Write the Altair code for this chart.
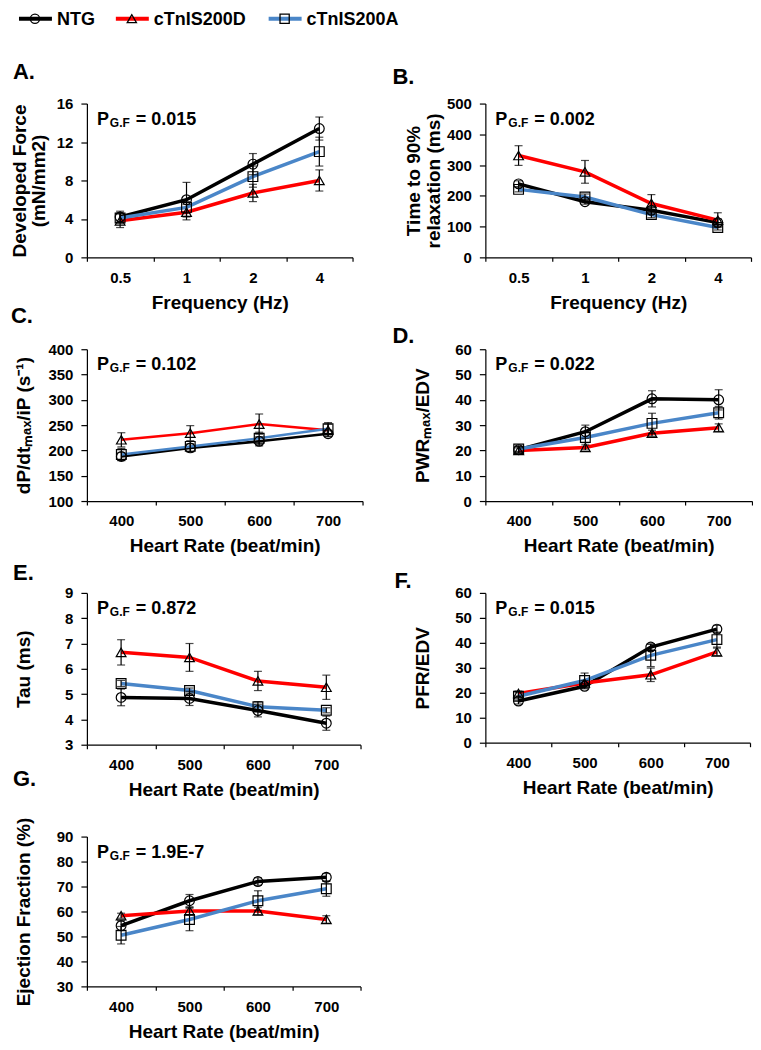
import altair as alt
import pandas as pd

FONT = "Liberation Sans"

SERIES = ["NTG", "cTnIS200D", "cTnIS200A"]
FREQ = ["0.5", "1", "2", "4"]
HR = ["400", "500", "600", "700"]
PVALS = ["0.015", "0.002", "0.102", "0.022", "0.872", "0.015", "1.9E-7"]

# A. Developed Force (mN/mm2)
A_NTG = [4.2, 6.0, 9.7, 13.4]
A_NTG_SE = [0.6, 1.8, 1.1, 1.2]
A_D = [3.8, 4.7, 6.7, 8.0]
A_D_SE = [0.7, 0.8, 0.9, 1.1]
A_A = [4.1, 5.2, 8.4, 11.0]
A_A_SE = [0.5, 0.6, 1.1, 1.5]

# B. Time to 90% relaxation (ms)
B_NTG = [239, 181, 153, 113]
B_NTG_SE = [10, 8, 12, 12]
B_D = [331, 278, 175, 121]
B_D_SE = [32, 37, 29, 24]
B_A = [221, 196, 139, 97]
B_A_SE = [8, 10, 10, 8]

# C. dP/dtmax/iP (s-1)
C_NTG = [188, 205, 218, 233]
C_NTG_SE = [8, 8, 9, 6]
C_D = [221, 234, 252, 240]
C_D_SE = [14, 15, 20, 12]
C_A = [192, 208, 224, 243]
C_A_SE = [12, 10, 12, 12]

# D. PWRmax/EDV
D_NTG = [20.3, 27.4, 40.4, 40.0]
D_NTG_SE = [1.2, 2.6, 3.2, 4.0]
D_D = [20.0, 21.2, 26.8, 29.0]
D_D_SE = [1.0, 1.0, 1.2, 1.5]
D_A = [20.6, 25.1, 30.7, 34.9]
D_A_SE = [1.0, 2.0, 4.0, 2.5]

# E. Tau (ms)
E_NTG = [4.87, 4.83, 4.35, 3.85]
E_NTG_SE = [0.33, 0.28, 0.25, 0.28]
E_D = [6.65, 6.45, 5.52, 5.27]
E_D_SE = [0.5, 0.55, 0.38, 0.48]
E_A = [5.42, 5.14, 4.50, 4.36]
E_A_SE = [0.12, 0.1, 0.2, 0.1]

# F. PFR/EDV
F_NTG = [16.7, 22.6, 38.3, 45.5]
F_NTG_SE = [1.2, 1.0, 1.2, 1.5]
F_D = [19.7, 23.9, 27.2, 36.4]
F_D_SE = [1.0, 1.0, 2.7, 1.5]
F_A = [18.6, 24.9, 35.0, 41.3]
F_A_SE = [1.5, 3.0, 4.5, 3.0]

# G. Ejection Fraction (%)
G_NTG = [54.3, 64.3, 72.0, 73.7]
G_NTG_SE = [2.0, 2.5, 1.5, 1.5]
G_D = [58.3, 60.2, 60.2, 56.8]
G_D_SE = [1.0, 1.5, 1.5, 1.5]
G_A = [50.5, 56.8, 64.3, 69.1]
G_A_SE = [3.5, 4.5, 4.0, 3.0]

BLUE_LIGHT = "#4A86C8"
BLUE = "#1273C6"
RED = "#FF0000"
BLACK = "#000000"
SHAPES = ["circle", "triangle-up", "square"]


def panel(letter, cats, means, errs, ydom, yticks, ytitle, xtitle, pval,
          width, height, t_offset, t_dx, blue=BLUE, shapes=SHAPES, lw=3.5,
          ytp=13, tlh=20):
    rows = []
    for si, s in enumerate(SERIES):
        for ci, c in enumerate(cats):
            rows.append({"cat": c, "series": s, "mean": means[si][ci],
                         "err": errs[si][ci]})
    df = pd.DataFrame(rows)
    base = alt.Chart(df).transform_calculate(
        lo="datum.mean - datum.err", hi="datum.mean + datum.err")

    xscale = alt.Scale(type="band", domain=cats, paddingInner=0, paddingOuter=0)
    xaxis = alt.Axis(title=xtitle, tickBand="extent", labelAngle=0, tickSize=4,
                     labelPadding=9, titlePadding=8)
    yscale = alt.Scale(domain=ydom, nice=False, zero=False)
    yaxis = alt.Axis(values=yticks, title=ytitle, grid=False, tickSize=6,
                     labelPadding=8, minExtent=40, maxExtent=40,
                     titlePadding=ytp, titleLineHeight=tlh)

    def X():
        return alt.X("cat:O", scale=xscale, axis=xaxis, sort=cats)

    def Y(f):
        return alt.Y(f, scale=yscale, axis=yaxis)

    color = alt.Color("series:N", scale=alt.Scale(domain=SERIES, range=[BLACK, RED, blue]),
                      legend=None)
    shape = alt.Shape("series:N", scale=alt.Scale(domain=SERIES, range=shapes), legend=None)

    lines = base.mark_line(strokeWidth=lw).encode(x=X(), y=Y("mean:Q"), color=color)
    bars = base.mark_rule(color="black", strokeWidth=1.2).encode(
        x=X(), y=Y("lo:Q"), y2="hi:Q")
    cap_hi = base.mark_tick(color="black", size=8, thickness=1.2).encode(x=X(), y=Y("hi:Q"))
    cap_lo = base.mark_tick(color="black", size=8, thickness=1.2).encode(x=X(), y=Y("lo:Q"))
    pts = base.mark_point(filled=False, size=95, color="black", strokeWidth=1.2,
                          opacity=1).encode(x=X(), y=Y("mean:Q"), shape=shape)

    pdf = pd.DataFrame({"p": ["= " + pval]})
    tp = alt.Chart(pdf).mark_text(text="P", fontSize=18, fontWeight="bold", font=FONT,
                                  align="left", baseline="alphabetic", color="black").encode(
        x=alt.value(10), y=alt.value(21))
    tsub = alt.Chart(pdf).mark_text(text="G.F", fontSize=12, fontWeight="bold", font=FONT,
                                    align="left", baseline="alphabetic", color="black").encode(
        x=alt.value(23), y=alt.value(23))
    trest = alt.Chart(pdf).mark_text(fontSize=18, fontWeight="bold", font=FONT,
                                     align="left", baseline="alphabetic", color="black").encode(
        x=alt.value(49), y=alt.value(21), text="p:N")

    return alt.layer(lines, bars, cap_hi, cap_lo, pts, tp, tsub, trest).properties(
        width=width, height=height,
        title=alt.TitleParams(text=letter, anchor="start", frame="group", dx=t_dx,
                              offset=t_offset, fontSize=22, fontWeight="bold",
                              font=FONT, color="black", baseline="alphabetic"))


HR_T = "Heart Rate (beat/min)"
pA = panel("A.", FREQ, [A_NTG, A_D, A_A], [A_NTG_SE, A_D_SE, A_A_SE], [0, 16],
           [0, 4, 8, 12, 16], ["Developed Force", "(mN/mm2)"], "Frequency (Hz)",
           PVALS[0], 266, 154, -4, -74, blue=BLUE_LIGHT, ytp=-2, tlh=19)
pB = panel("B.", FREQ, [B_NTG, B_D, B_A], [B_NTG_SE, B_D_SE, B_A_SE], [0, 500],
           [0, 100, 200, 300, 400, 500], ["Time to 90%", "relaxation (ms)"],
           "Frequency (Hz)", PVALS[1], 266, 154, -9, -93, ytp=2)
pC = panel("C.", HR, [C_NTG, C_D, C_A], [C_NTG_SE, C_D_SE, C_A_SE], [100, 400],
           [100, 150, 200, 250, 300, 350, 400], "dP/dtₘₐₓ/iP (s⁻¹)", HR_T,
           PVALS[2], 276, 152, -3, -76, lw=2.5)
pD = panel("D.", HR, [D_NTG, D_D, D_A], [D_NTG_SE, D_D_SE, D_A_SE], [0, 60],
           [0, 10, 20, 30, 40, 50, 60], "PWRₘₐₓ/EDV", HR_T,
           PVALS[3], 267, 152, -23, -93)
pE = panel("E.", HR, [E_NTG, E_D, E_A], [E_NTG_SE, E_D_SE, E_A_SE], [3, 9],
           [3, 4, 5, 6, 7, 8, 9], "Tau (ms)", HR_T,
           PVALS[4], 274, 152, -16, -74, shapes=["circle", "triangle-up", "circle"])
pF = panel("F.", HR, [F_NTG, F_D, F_A], [F_NTG_SE, F_D_SE, F_A_SE], [0, 60],
           [0, 10, 20, 30, 40, 50, 60], "PFR/EDV", HR_T,
           PVALS[5], 265, 150, -24, -91)
pG = panel("G.", HR, [G_NTG, G_D, G_A], [G_NTG_SE, G_D_SE, G_A_SE], [30, 90],
           [30, 40, 50, 60, 70, 80, 90], "Ejection Fraction (%)", HR_T,
           PVALS[6], 274, 150, 9, -74)

grid = alt.concat(pA, pB, pC, pD, pE, pF, pG, columns=2,
                  spacing={"row": 92, "column": 123}, bounds="flush")

# manual legend (coloured line with black hollow marker)
LEG_X = [-68, 29, 182]
LEG_COL = [BLACK, RED, BLUE_LIGHT]
legend_layers = []
for i, s in enumerate(SERIES):
    ldf = pd.DataFrame({"series": [s]})
    x0 = LEG_X[i]
    legend_layers.append(alt.Chart(ldf).mark_rule(color=LEG_COL[i], strokeWidth=4).encode(
        x=alt.value(x0), x2=alt.value(x0 + 33), y=alt.value(10)))
    legend_layers.append(alt.Chart(ldf).mark_point(filled=False, size=85, color="black",
                                                   strokeWidth=1.3, shape=SHAPES[i],
                                                   opacity=1).encode(
        x=alt.value(x0 + 16), y=alt.value(10)))
    legend_layers.append(alt.Chart(ldf).mark_text(fontSize=18, fontWeight="bold", font=FONT,
                                                  align="left", baseline="middle",
                                                  color="black").encode(
        x=alt.value(x0 + 38), y=alt.value(11), text="series:N"))
legend = alt.layer(*legend_layers).properties(width=320, height=22)

chart = alt.vconcat(legend, grid, spacing=30).properties(
    padding={"left": 3, "top": 0, "right": 0, "bottom": 0}
).configure_view(
    stroke=None
).configure_axis(
    labelFont=FONT, titleFont=FONT, labelFontWeight="bold", titleFontWeight="bold",
    labelFontSize=15, titleFontSize=19, labelColor="black", titleColor="black",
    domainColor="black", tickColor="black", domainWidth=1.2, tickWidth=1.2,
)

chart.save("out.html", embed_options={"renderer": "svg", "actions": False})
